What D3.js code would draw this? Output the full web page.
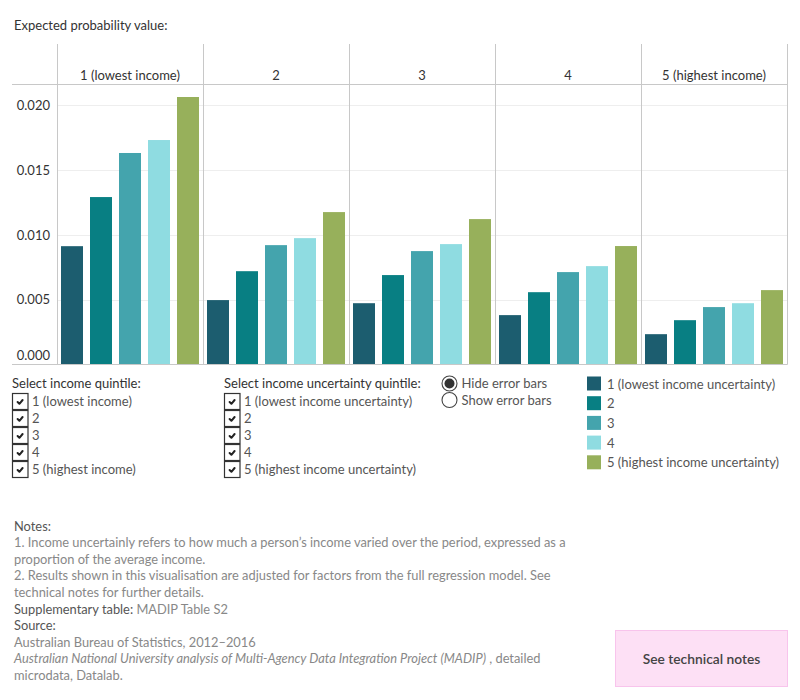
<!DOCTYPE html>
<html>
<head>
<meta charset="utf-8">
<script src="https://cdn.jsdelivr.net/npm/d3@7"></script>
<style>
  body { margin: 0; background: #fff; }
  svg { display: block; font-family: Lato, "Noto Sans", sans-serif; }
</style>
</head>
<body>
<svg id="chart" width="800" height="700"></svg>
<script>
// ---------- data ----------
const incomeQuintiles = ["1 (lowest income)", "2", "3", "4", "5 (highest income)"];
const uncertaintyQuintiles = ["1 (lowest income uncertainty)", "2", "3", "4", "5 (highest income uncertainty)"];
// one array per uncertainty quintile, values across income quintiles 1..5
const uncertainty1 = [0.00913, 0.00497, 0.00473, 0.00381, 0.00234];
const uncertainty2 = [0.01292, 0.00720, 0.00690, 0.00558, 0.00342];
const uncertainty3 = [0.01632, 0.00921, 0.00875, 0.00713, 0.00443];
const uncertainty4 = [0.01732, 0.00975, 0.00929, 0.00759, 0.00473];
const uncertainty5 = [0.02064, 0.01176, 0.01122, 0.00914, 0.00574];
const yTicks = [0, 0.005, 0.010, 0.015, 0.020];
const incomeFilterLabels = ["1 (lowest income)", "2", "3", "4", "5 (highest income)"];
const uncertaintyFilterLabels = ["1 (lowest income uncertainty)", "2", "3", "4", "5 (highest income uncertainty)"];
const errorBarOptions = ["Hide error bars", "Show error bars"];

const seriesValues = [uncertainty1, uncertainty2, uncertainty3, uncertainty4, uncertainty5];
const colors = ["#1c5d6f", "#087f83", "#44a4ad", "#8fdce1", "#97b05b"];

// ---------- layout ----------
const FS = 13;
const svg = d3.select("#chart");
svg.append("rect").attr("width", 800).attr("height", 700).attr("fill", "#fff");

const plotLeft = 57, plotRight = 787, plotTop = 44, headerBottom = 84.5, baseY = 364.5;

const x0 = d3.scaleBand().domain(incomeQuintiles).range([plotLeft, plotRight]).paddingInner(0).paddingOuter(0);
const x1 = d3.scaleBand().domain(uncertaintyQuintiles).range([0, x0.bandwidth()])
  .paddingInner(7 / 29).paddingOuter(0.138);
const y = d3.scaleLinear().domain([0, 0.02]).range([baseY, 105.3]);
const color = d3.scaleOrdinal().domain(uncertaintyQuintiles).range(colors);

// title
svg.append("text").attr("x", 14).attr("y", 29.5).attr("font-size", FS).attr("fill", "#333")
  .text("Expected probability value:");

// gridlines
svg.append("g").selectAll("line").data(yTicks.filter(d => d > 0)).join("line")
  .attr("x1", plotLeft).attr("x2", plotRight)
  .attr("y1", d => Math.round(y(d)) + 0.5).attr("y2", d => Math.round(y(d)) + 0.5)
  .attr("stroke", "#eeeeee").attr("stroke-width", 1);

// bars
const barData = [];
incomeQuintiles.forEach((inc, i) => {
  uncertaintyQuintiles.forEach((unc, j) => {
    barData.push({ inc, unc, v: seriesValues[j][i] });
  });
});
svg.append("g").selectAll("rect").data(barData).join("rect")
  .attr("x", d => x0(d.inc) + x1(d.unc))
  .attr("width", x1.bandwidth())
  .attr("y", d => y(d.v))
  .attr("height", d => y(0) - y(d.v))
  .attr("fill", d => color(d.unc));

// panel separators
const sepXs = incomeQuintiles.map(d => x0(d)).concat([plotRight]);
svg.append("g").selectAll("line").data(sepXs).join("line")
  .attr("x1", d => Math.round(d) + 0.5).attr("x2", d => Math.round(d) + 0.5)
  .attr("y1", plotTop).attr("y2", baseY)
  .attr("stroke", "#c8c8c8").attr("stroke-width", 1);

// header bottom line and baseline
svg.append("line").attr("x1", 12).attr("x2", plotRight).attr("y1", headerBottom).attr("y2", headerBottom)
  .attr("stroke", "#c8c8c8");
svg.append("line").attr("x1", 12).attr("x2", plotRight + 0.5).attr("y1", baseY).attr("y2", baseY)
  .attr("stroke", "#c8c8c8");

// header labels
svg.append("g").selectAll("text").data(incomeQuintiles).join("text")
  .attr("x", d => x0(d) + x0.bandwidth() / 2).attr("y", 79.5)
  .attr("text-anchor", "middle").attr("font-size", FS).attr("fill", "#333")
  .text(d => d);

// y axis
const yAxis = svg.append("g").attr("transform", `translate(${plotLeft},0)`)
  .call(d3.axisLeft(y).tickValues(yTicks).tickFormat(d3.format(".3f")).tickSize(0).tickPadding(7));
yAxis.select(".domain").remove();
yAxis.selectAll("text").attr("font-size", FS).attr("fill", "#333").attr("font-family", "Lato, 'Noto Sans', sans-serif");
yAxis.selectAll(".tick").filter(d => d === 0).select("text").attr("dy", "-0.35em");

// ---------- filters ----------
function checkboxList(x, yTitle, title, labels) {
  const g = svg.append("g");
  g.append("text").attr("x", x).attr("y", yTitle).attr("font-size", FS).attr("fill", "#333").text(title);
  const rows = g.selectAll("g.row").data(labels).join("g").attr("class", "row")
    .attr("transform", (d, i) => `translate(${x},${393 + i * 17})`);
  rows.append("rect").attr("x", 0.5).attr("y", 0.5).attr("width", 15.5).attr("height", 16)
    .attr("fill", "#fff").attr("stroke", "#333").attr("stroke-width", 1.2);
  rows.append("path").attr("d", "M5.6,9 L7.4,10.8 L10.6,7")
    .attr("fill", "none").attr("stroke", "#222").attr("stroke-width", 2)
    .attr("stroke-linecap", "round").attr("stroke-linejoin", "round");
  rows.append("text").attr("x", 20).attr("y", 13).attr("font-size", FS).attr("fill", "#555").text(d => d);
}
checkboxList(12, 387.5, "Select income quintile:", incomeFilterLabels);
checkboxList(224, 387.5, "Select income uncertainty quintile:", uncertaintyFilterLabels);

// radio buttons
const radios = svg.append("g").selectAll("g").data(errorBarOptions).join("g")
  .attr("transform", (d, i) => `translate(449.5,${383.5 + i * 16.5})`);
radios.append("circle").attr("r", 7.5).attr("fill", "#fff").attr("stroke", "#444").attr("stroke-width", 1.1);
radios.filter((d, i) => i === 0).append("circle").attr("r", 5).attr("fill", "#333");
radios.append("text").attr("x", 12).attr("y", 4.5).attr("font-size", FS).attr("fill", "#555").text(d => d);

// legend
const legend = svg.append("g").selectAll("g").data(uncertaintyQuintiles).join("g")
  .attr("transform", (d, i) => `translate(587,${376.5 + i * 19.7})`);
legend.append("rect").attr("width", 14).attr("height", 14).attr("fill", d => color(d));
legend.append("text").attr("x", 20).attr("y", 12).attr("font-size", FS).attr("fill", "#555").text(d => d);

// ---------- notes ----------
const notes = svg.append("g").attr("font-size", 12.85);
const lh = 16.6;
const y0n = 530.5;
notes.append("text").attr("x", 14).attr("y", y0n).attr("fill", "#555").text("Notes:");
const noteLines = [
  "1. Income uncertainly refers to how much a person\u2019s income varied over the period, expressed as a",
  "proportion of the average income.",
  "2. Results shown in this visualisation are adjusted for factors from the full regression model. See",
  "technical notes for further details."
];
noteLines.forEach((t, i) => {
  notes.append("text").attr("x", 14).attr("y", y0n + (i + 1) * lh).attr("fill", "#888").text(t);
});
const supp = notes.append("text").attr("x", 14).attr("y", y0n + 5 * lh);
supp.append("tspan").attr("fill", "#555").text("Supplementary table: ");
supp.append("tspan").attr("fill", "#888").text("MADIP Table S2");
notes.append("text").attr("x", 14).attr("y", y0n + 6 * lh).attr("fill", "#555").text("Source:");
notes.append("text").attr("x", 14).attr("y", y0n + 7 * lh).attr("fill", "#888").text("Australian Bureau of Statistics, 2012\u20132016");
const src2 = notes.append("text").attr("x", 14).attr("y", y0n + 8 * lh);
src2.append("tspan").attr("fill", "#888").attr("font-style", "italic")
  .text("Australian National University analysis of Multi-Agency Data Integration Project (MADIP)");
src2.append("tspan").attr("fill", "#888").text(" , detailed");
notes.append("text").attr("x", 14).attr("y", y0n + 9 * lh).attr("fill", "#888").text("microdata, Datalab.");

// button
svg.append("rect").attr("x", 615.5).attr("y", 630.5).attr("width", 172).attr("height", 56)
  .attr("fill", "#fde0f5").attr("stroke", "#f8c4ec");
svg.append("text").attr("x", 701.5).attr("y", 664).attr("text-anchor", "middle")
  .attr("font-size", 13.8).attr("font-weight", 600).attr("fill", "#444").text("See technical notes");
</script>
</body>
</html>
